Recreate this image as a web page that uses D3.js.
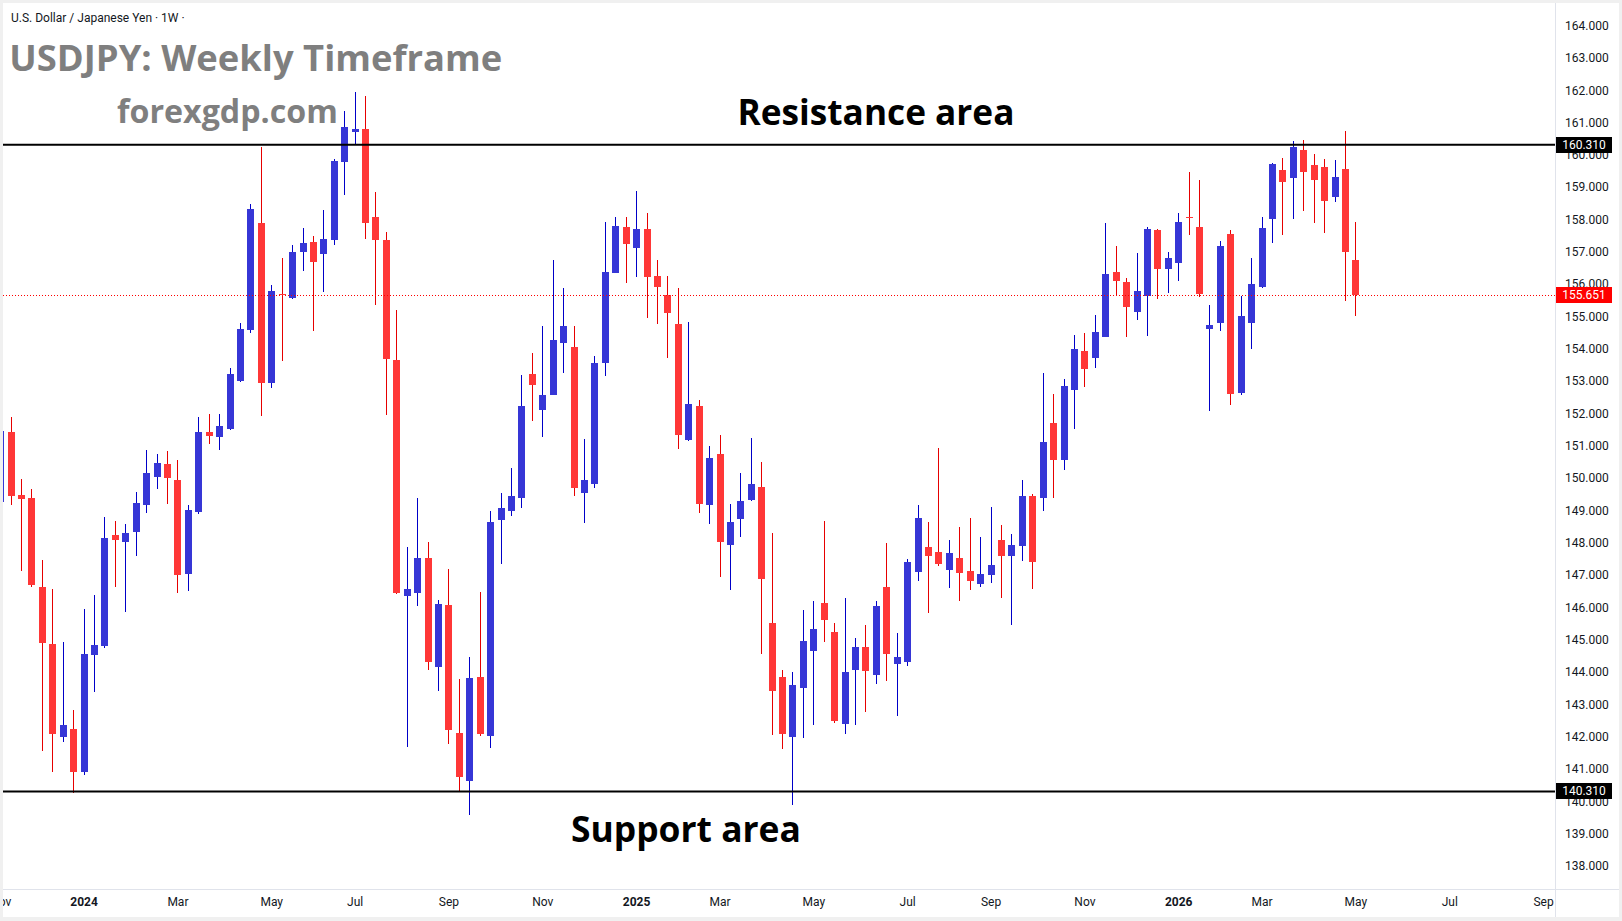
<!DOCTYPE html>
<html>
<head>
<meta charset="utf-8">
<script src="https://cdn.jsdelivr.net/npm/d3@7"></script>
<style>
  html, body { margin: 0; padding: 0; background: #f0f0f0; }
  svg { display: block; }
</style>
</head>
<body>
<svg id="chart" width="1622" height="921"></svg>
<script>
// weekly USDJPY candles, first bar = week of 2023-11-06
let firstWeek = new Date(Date.UTC(2023, 10, 6));

let openPrice = [
  149.27, 151.43, 149.48, 149.39, 146.63, 144.87, 142.00, 142.24, 140.92, 144.53,
  144.82, 148.24, 148.02, 148.33, 149.17, 150.03, 150.44, 149.94, 147.02, 148.94,
  151.42, 151.26, 151.53, 153.01, 154.57, 157.89, 152.93, 155.69, 155.58, 157.00,
  157.31, 156.92, 157.38, 159.77, 160.72, 160.80, 158.08, 157.36, 153.66, 146.35,
  146.44, 147.53, 144.15, 146.09, 142.12, 140.63, 143.86, 142.02, 148.70, 148.99,
  149.40, 153.22, 152.12, 152.58, 154.19, 154.06, 149.55, 149.83, 153.57, 156.36,
  157.77, 157.13, 157.71, 156.25, 155.66, 154.77, 151.19, 152.22, 149.17, 150.74,
  147.94, 148.74, 149.33, 149.74, 145.51, 143.86, 141.98, 143.50, 144.65, 146.15,
  145.23, 142.40, 144.07, 144.78, 143.91, 146.63, 144.25, 144.31, 147.10, 147.87,
  147.72, 147.16, 147.53, 147.13, 146.73, 147.00, 148.09, 147.59, 147.91, 149.45,
  149.40, 151.71, 150.57, 152.74, 153.93, 153.73, 154.35, 156.38, 156.07, 155.15,
  155.64, 157.68, 156.48, 156.66, 158.09, 157.77, 154.62, 154.81, 157.55, 152.64,
  154.81, 155.92, 158.03, 159.53, 159.29, 160.15, 159.68, 159.62, 158.71, 159.56,
  156.75
];
let highPrice = [
  151.90, 151.89, 149.97, 149.66, 147.47, 146.57, 144.93, 142.83, 145.95, 146.39,
  148.80, 148.67, 148.58, 149.57, 150.87, 150.75, 150.84, 150.56, 149.16, 151.89,
  151.99, 151.99, 153.41, 154.79, 158.48, 160.25, 155.97, 156.81, 157.21, 157.74,
  157.49, 158.30, 159.86, 161.34, 161.95, 161.83, 158.85, 157.61, 155.20, 147.87,
  149.38, 148.03, 146.22, 147.20, 143.80, 144.48, 146.48, 148.99, 149.54, 150.31,
  153.19, 153.87, 154.71, 156.75, 155.88, 154.71, 151.21, 153.78, 157.92, 158.08,
  158.08, 158.88, 158.20, 156.75, 156.25, 155.88, 154.83, 152.41, 150.98, 151.32,
  149.19, 150.15, 151.24, 150.49, 148.29, 144.08, 144.01, 145.91, 146.19, 148.67,
  145.51, 146.28, 145.07, 145.46, 146.20, 147.99, 145.21, 147.50, 149.17, 148.64,
  150.93, 148.09, 148.49, 148.77, 148.18, 149.11, 148.55, 148.27, 149.94, 149.51,
  153.25, 152.60, 153.07, 154.43, 154.49, 155.05, 157.89, 157.18, 156.19, 156.96,
  157.77, 157.71, 156.99, 158.20, 159.47, 159.22, 155.36, 157.33, 157.68, 155.63,
  156.81, 158.08, 159.75, 159.90, 160.43, 160.46, 160.03, 159.87, 159.84, 160.74,
  157.92
];
let lowPrice = [
  149.20, 149.17, 147.13, 146.64, 141.57, 140.92, 141.85, 140.25, 140.82, 143.39,
  144.76, 146.64, 145.87, 147.59, 148.93, 149.66, 149.20, 146.46, 146.51, 148.88,
  151.05, 150.86, 151.48, 152.97, 154.48, 151.91, 152.79, 153.62, 155.53, 156.41,
  154.56, 155.77, 157.20, 158.76, 160.35, 157.40, 155.36, 151.94, 146.41, 141.67,
  146.04, 144.07, 143.42, 141.77, 140.28, 139.58, 142.03, 141.64, 147.33, 148.84,
  149.09, 151.78, 151.28, 152.56, 153.26, 149.46, 148.62, 149.68, 153.17, 156.33,
  156.02, 156.23, 154.96, 154.78, 153.73, 150.91, 151.15, 148.92, 148.58, 146.94,
  146.54, 148.18, 149.28, 144.56, 142.04, 141.61, 139.88, 141.95, 142.36, 144.93,
  142.42, 142.10, 142.36, 142.78, 143.63, 143.73, 142.64, 144.19, 146.82, 145.83,
  147.28, 146.60, 146.20, 146.54, 146.63, 146.76, 146.29, 145.47, 147.45, 146.58,
  148.99, 149.37, 150.26, 151.53, 152.83, 153.42, 154.35, 155.66, 154.35, 154.89,
  154.41, 155.55, 155.74, 156.11, 157.53, 155.61, 152.09, 154.56, 152.27, 152.58,
  154.00, 155.88, 157.28, 157.53, 158.03, 158.27, 157.90, 157.59, 158.55, 155.49,
  155.03
];
let closePrice = [
  151.46, 149.46, 149.36, 146.70, 144.91, 142.09, 142.36, 140.92, 144.56, 144.84,
  148.15, 148.09, 148.30, 149.23, 150.16, 150.47, 149.99, 147.00, 149.02, 151.42,
  151.31, 151.62, 153.22, 154.61, 158.33, 152.93, 155.79, 155.66, 156.99, 157.28,
  156.70, 157.40, 159.81, 160.86, 160.80, 157.89, 157.35, 153.70, 146.44, 146.57,
  147.53, 144.31, 146.12, 142.21, 140.75, 143.83, 142.09, 148.64, 149.08, 149.45,
  152.23, 152.89, 152.57, 154.27, 154.71, 149.68, 149.94, 153.56, 156.38, 157.80,
  157.25, 157.71, 156.23, 155.92, 155.12, 151.33, 152.29, 149.20, 150.62, 148.02,
  148.63, 149.29, 149.81, 146.89, 143.41, 142.08, 143.61, 144.95, 145.34, 145.61,
  142.50, 144.01, 144.79, 144.04, 146.05, 144.56, 144.47, 147.41, 148.77, 147.59,
  147.34, 147.69, 147.07, 146.82, 147.03, 147.31, 147.59, 147.93, 149.45, 147.42,
  151.12, 150.57, 152.85, 153.99, 153.39, 154.52, 156.31, 156.11, 155.29, 155.79,
  157.71, 156.48, 156.81, 157.92, 158.06, 155.71, 154.74, 157.18, 152.61, 155.01,
  156.00, 157.74, 159.72, 159.17, 160.24, 159.48, 159.23, 158.58, 159.31, 157.00,
  155.651
];

let resistanceLevel = 160.310;
let supportLevel = 140.310;
let lastPrice = 155.651;

let priceTicks = [138, 139, 140, 141, 142, 143, 144, 145, 146, 147, 148, 149, 150,
  151, 152, 153, 154, 155, 156, 157, 158, 159, 160, 161, 162, 163, 164];
let monthTicks = ['2023-11-06', '2024-01-01', '2024-03-04', '2024-05-06', '2024-07-01',
  '2024-09-02', '2024-11-04', '2025-01-06', '2025-03-03', '2025-05-05', '2025-07-07',
  '2025-09-01', '2025-11-03', '2026-01-05', '2026-03-02', '2026-05-04', '2026-07-06',
  '2026-09-07'];

let upBody = '#3636d6', upWick = '#0000c8';
let downBody = '#ff3737', downWick = '#e60000';

let plotLeft = 3, plotTop = 3, plotRight = 1555, plotBottom = 889;

let weeks = d3.utcMonday.range(firstWeek, d3.utcMonday.offset(firstWeek, openPrice.length));
let candles = weeks.map(function(d, i) {
  return { date: d, o: openPrice[i], h: highPrice[i], l: lowPrice[i], c: closePrice[i] };
});

let x = d3.scaleUtc()
  .domain([new Date(Date.UTC(2024, 0, 1)), new Date(Date.UTC(2026, 0, 5))])
  .range([83.6, 1178.2]);
let y = d3.scaleLinear().domain([138, 164]).range([866.1, 25.5]);

let svg = d3.select('#chart');

svg.append('rect').attr('x', 3).attr('y', 3).attr('width', 1616).attr('height', 914).attr('fill', '#fff');

let defs = svg.append('defs');
defs.append('clipPath').attr('id', 'plotClip').append('rect')
  .attr('x', plotLeft).attr('y', plotTop)
  .attr('width', plotRight - plotLeft).attr('height', plotBottom - plotTop);
defs.append('clipPath').attr('id', 'timeClip').append('rect')
  .attr('x', plotLeft).attr('y', plotBottom)
  .attr('width', plotRight - plotLeft).attr('height', 30);

// separators of the axis panels
svg.append('line').attr('x1', plotRight + 0.5).attr('x2', plotRight + 0.5)
  .attr('y1', 3).attr('y2', 917).attr('stroke', '#e0e3eb');
svg.append('line').attr('x1', 3).attr('x2', 1619)
  .attr('y1', plotBottom + 0.5).attr('y2', plotBottom + 0.5).attr('stroke', '#e0e3eb');

let plot = svg.append('g').attr('clip-path', 'url(#plotClip)');

let candle = plot.selectAll('.candle')
  .data(candles)
  .enter()
  .append('g')
  .attr('class', 'candle')
  .attr('shape-rendering', 'crispEdges');

candle.append('rect')
  .attr('x', function(d) { return Math.round(x(d.date)); })
  .attr('width', 1)
  .attr('y', function(d) { return Math.round(y(d.h)); })
  .attr('height', function(d) { return Math.max(1, Math.round(y(d.l)) - Math.round(y(d.h))); })
  .attr('fill', function(d) { return d.c >= d.o ? upWick : downWick; });

candle.append('rect')
  .attr('x', function(d) { return Math.round(x(d.date)) - 3; })
  .attr('width', 7)
  .attr('y', function(d) { return Math.round(y(Math.max(d.o, d.c))); })
  .attr('height', function(d) {
    return Math.max(1, Math.round(y(Math.min(d.o, d.c))) - Math.round(y(Math.max(d.o, d.c))));
  })
  .attr('fill', function(d) { return d.c >= d.o ? upBody : downBody; });

// horizontal levels
plot.selectAll('.level')
  .data([resistanceLevel, supportLevel])
  .enter()
  .append('line')
  .attr('class', 'level')
  .attr('x1', plotLeft).attr('x2', plotRight)
  .attr('y1', function(d) { return y(d); }).attr('y2', function(d) { return y(d); })
  .attr('stroke', '#000').attr('stroke-width', 2);

plot.append('line')
  .attr('x1', plotLeft).attr('x2', plotRight)
  .attr('y1', Math.round(y(lastPrice)) + 0.5).attr('y2', Math.round(y(lastPrice)) + 0.5)
  .attr('stroke', '#f00').attr('stroke-width', 1).attr('stroke-dasharray', '1,2');

// price axis
let yAxis = svg.append('g')
  .attr('transform', 'translate(' + plotRight + ',0)')
  .call(d3.axisRight(y).tickValues(priceTicks).tickSize(0).tickPadding(10).tickFormat(d3.format('.3f')));
yAxis.select('.domain').remove();
yAxis.selectAll('text').attr('font-family', 'Roboto, sans-serif').attr('font-size', 12).attr('fill', '#131722');

// time axis
let xAxis = svg.append('g')
  .attr('clip-path', 'url(#timeClip)')
  .append('g')
  .attr('transform', 'translate(0,' + plotBottom + ')')
  .call(d3.axisBottom(x)
    .tickValues(monthTicks.map(function(s) { return new Date(s + 'T00:00:00Z'); }))
    .tickSize(0).tickPadding(8)
    .tickFormat(function(d) { return d.getUTCMonth() === 0 ? d.getUTCFullYear() : d3.utcFormat('%b')(d); }));
xAxis.select('.domain').remove();
xAxis.selectAll('text')
  .attr('font-family', 'Roboto, sans-serif').attr('font-size', 12).attr('fill', '#131722')
  .attr('font-weight', function(d) { return d.getUTCMonth() === 0 ? 700 : 400; });

// value boxes on the price axis
let boxes = [
  { v: resistanceLevel, bg: '#000' },
  { v: supportLevel, bg: '#000' },
  { v: lastPrice, bg: '#ff0000' }
];
let box = svg.selectAll('.pbox').data(boxes).enter().append('g').attr('class', 'pbox')
  .attr('transform', function(d) { return 'translate(' + (plotRight + 1) + ',' + Math.round(y(d.v)) + ')'; });
box.append('rect').attr('x', 0).attr('y', -8).attr('width', 56).attr('height', 16)
  .attr('fill', function(d) { return d.bg; });
box.append('text').attr('x', 28).attr('y', 0).attr('dy', '0.35em').attr('text-anchor', 'middle')
  .attr('font-family', 'Roboto, sans-serif').attr('font-size', 12).attr('fill', '#fff')
  .text(function(d) { return d3.format('.3f')(d.v); });

// header and annotations
svg.append('text').attr('x', 11).attr('y', 21.5)
  .attr('font-family', 'Roboto, sans-serif').attr('font-size', 12).attr('fill', '#131722')
  .text('U.S. Dollar / Japanese Yen \u00b7 1W \u00b7');

function fitText(sel, width) {
  let size = parseFloat(sel.attr('font-size'));
  let w = sel.node().getComputedTextLength();
  sel.attr('font-size', (size * width / w).toFixed(2));
}

let notes = [
  { t: 'USDJPY: Weekly Timeframe', x: 9.3, y: 71, w: 493, fill: '#7f7f7f' },
  { t: 'forexgdp.com', x: 117, y: 122.7, w: 221, fill: '#7f7f7f' },
  { t: 'Resistance area', x: 737.5, y: 125, w: 277, fill: '#000' },
  { t: 'Support area', x: 571, y: 842, w: 230, fill: '#000' }
];
notes.forEach(function(n) {
  let t = svg.append('text').attr('x', n.x).attr('y', n.y)
    .attr('font-family', '"Open Sans", sans-serif').attr('font-weight', 700)
    .attr('font-size', 36).attr('fill', n.fill).text(n.t);
  fitText(t, n.w);
});
</script>
</body>
</html>
